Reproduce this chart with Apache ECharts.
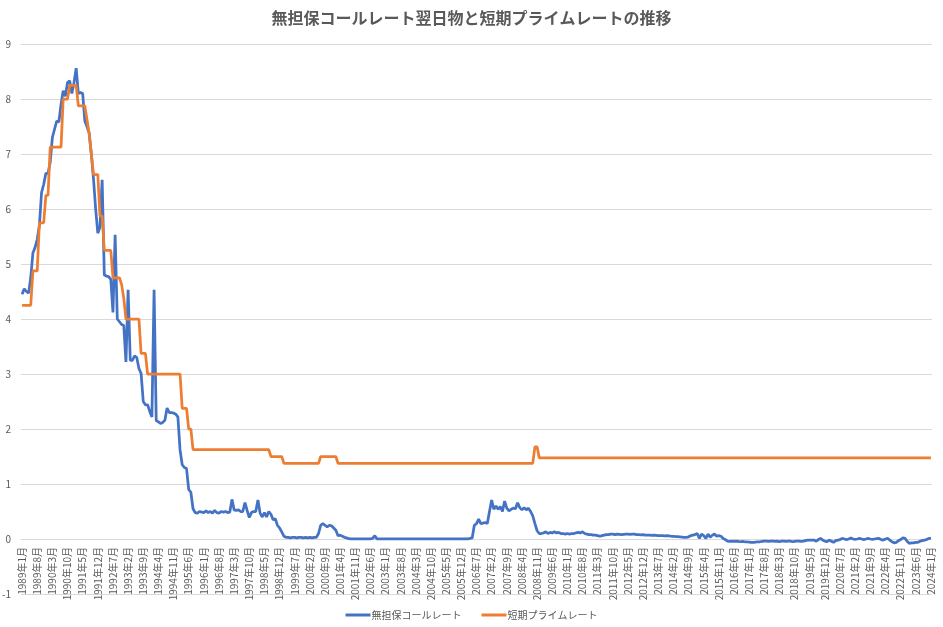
<!DOCTYPE html>
<html>
<head>
<meta charset="utf-8">
<script src="https://cdn.jsdelivr.net/npm/echarts@6/dist/echarts.min.js"></script>
<style>
  html, body {margin: 0; padding: 0; background: #fff;}
  #chart {width: 943px; height: 627px;}
</style>
</head>
<body>
<div id="chart"></div>
<script>
// 月次データ 1989年1月〜2024年1月
var startYear = 1989;
var monthCount = 421;

// 無担保コールレート翌日物 (年ごと12ヶ月)
var callRate = [
    4.45, 4.55, 4.5, 4.47, 4.75, 5.2, 5.3, 5.45, 5.7, 6.3, 6.45, 6.65,          // 1989
    6.65, 6.85, 7.3, 7.45, 7.6, 7.58, 7.9, 8.15, 8.05, 8.3, 8.33, 8.1,          // 1990
    8.3, 8.56, 8.1, 8.12, 8.1, 7.6, 7.5, 7.38, 7.0, 6.55, 6.0, 5.56,            // 1991
    5.67, 6.53, 4.8, 4.78, 4.77, 4.72, 4.12, 5.53, 4.0, 3.95, 3.9, 3.88,        // 1992
    3.22, 4.53, 3.25, 3.25, 3.33, 3.3, 3.1, 3.01, 2.5, 2.44, 2.44, 2.32,        // 1993
    2.22, 4.53, 2.15, 2.13, 2.1, 2.12, 2.16, 2.38, 2.3, 2.3, 2.29, 2.27,        // 1994
    2.22, 1.62, 1.35, 1.3, 1.28, 0.9, 0.85, 0.55, 0.48, 0.47, 0.5, 0.49,        // 1995
    0.48, 0.51, 0.48, 0.5, 0.47, 0.52, 0.48, 0.47, 0.5, 0.49, 0.5, 0.48,        // 1996
    0.49, 0.72, 0.53, 0.52, 0.53, 0.5, 0.5, 0.66, 0.52, 0.39, 0.48, 0.5,        // 1997
    0.5, 0.71, 0.47, 0.4, 0.48, 0.4, 0.5, 0.45, 0.35, 0.37, 0.25, 0.2,          // 1998
    0.13, 0.05, 0.03, 0.03, 0.02, 0.03, 0.03, 0.02, 0.03, 0.03, 0.02, 0.03,     // 1999
    0.02, 0.03, 0.02, 0.03, 0.03, 0.1, 0.25, 0.28, 0.25, 0.22, 0.25, 0.24,      // 2000
    0.2, 0.16, 0.06, 0.07, 0.05, 0.03, 0.02, 0.005, 0.002, 0.002, 0.002, 0.002, // 2001
    0.002, 0.002, 0.002, 0.002, 0.002, 0.002, 0.01, 0.06, 0.002, 0.002, 0.002, 0.002, // 2002
    0.001, 0.001, 0.001, 0.001, 0.001, 0.001, 0.001, 0.001, 0.001, 0.001, 0.001, 0.001, // 2003
    0.001, 0.001, 0.001, 0.001, 0.001, 0.001, 0.001, 0.001, 0.001, 0.001, 0.001, 0.001, // 2004
    0.001, 0.001, 0.001, 0.001, 0.001, 0.001, 0.001, 0.001, 0.001, 0.001, 0.001, 0.001, // 2005
    0.001, 0.001, 0.001, 0.01, 0.02, 0.25, 0.28, 0.36, 0.28, 0.29, 0.3, 0.28,   // 2006
    0.5, 0.71, 0.54, 0.6, 0.54, 0.59, 0.5, 0.69, 0.56, 0.51, 0.54, 0.56,        // 2007
    0.55, 0.66, 0.57, 0.53, 0.57, 0.53, 0.56, 0.5, 0.42, 0.28, 0.15, 0.1,       // 2008
    0.1, 0.11, 0.13, 0.1, 0.12, 0.11, 0.13, 0.11, 0.12, 0.1, 0.1, 0.09,         // 2009
    0.1, 0.09, 0.1, 0.1, 0.11, 0.12, 0.11, 0.13, 0.1, 0.09, 0.08, 0.08,         // 2010
    0.07, 0.07, 0.06, 0.05, 0.06, 0.07, 0.08, 0.08, 0.09, 0.09, 0.08, 0.09,     // 2011
    0.085, 0.08, 0.085, 0.09, 0.09, 0.085, 0.09, 0.09, 0.08, 0.08, 0.075, 0.08, // 2012
    0.07, 0.07, 0.07, 0.065, 0.07, 0.065, 0.06, 0.06, 0.06, 0.055, 0.06, 0.055, // 2013
    0.05, 0.05, 0.045, 0.045, 0.04, 0.035, 0.03, 0.03, 0.04, 0.06, 0.07, 0.08,  // 2014
    0.1, 0.01, 0.09, 0.06, 0.01, 0.09, 0.03, 0.07, 0.09, 0.05, 0.06, 0.05,      // 2015
    0.01, -0.01, -0.04, -0.045, -0.04, -0.045, -0.04, -0.045, -0.05, -0.045, -0.05, -0.05, // 2016
    -0.055, -0.06, -0.06, -0.055, -0.05, -0.05, -0.045, -0.04, -0.04, -0.045, -0.04, -0.04, // 2017
    -0.045, -0.04, -0.05, -0.04, -0.04, -0.045, -0.04, -0.04, -0.05, -0.045, -0.04, -0.04, // 2018
    -0.045, -0.04, -0.03, -0.02, -0.02, -0.02, -0.02, -0.04, -0.01, 0.01, -0.02, -0.04,   // 2019
    -0.05, -0.02, -0.04, -0.06, -0.03, -0.02, -0.01, 0.01, 0.0, -0.01, 0.0, 0.02,         // 2020
    0.0, -0.005, 0.0, 0.01, 0.0, -0.01, 0.0, 0.01, 0.0, -0.005, 0.0, 0.005,               // 2021
    0.01, -0.01, -0.02, 0.0, 0.01, -0.02, -0.05, -0.07, -0.06, -0.03, -0.01, 0.02,        // 2022
    0.01, -0.04, -0.08, -0.07, -0.07, -0.06, -0.06, -0.04, -0.03, -0.02, -0.01, 0.01,     // 2023
    0.01                                                                                 // 2024
];

// 短期プライムレート
var primeRate = [
    4.25, 4.25, 4.25, 4.25, 4.25, 4.875, 4.875, 4.875, 5.75, 5.75, 5.75, 6.25,           // 1989
    6.25, 7.125, 7.125, 7.125, 7.125, 7.125, 7.125, 8.0, 8.0, 8.0, 8.25, 8.25,           // 1990
    8.25, 8.25, 7.875, 7.875, 7.875, 7.875, 7.625, 7.375, 7.0, 6.625, 6.625, 6.625,      // 1991
    5.875, 5.875, 5.25, 5.25, 5.25, 5.25, 4.75, 4.75, 4.75, 4.75, 4.625, 4.375,          // 1992
    4.0, 4.0, 4.0, 4.0, 4.0, 4.0, 4.0, 3.375, 3.375, 3.375, 3.0, 3.0,                    // 1993
    3.0, 3.0, 3.0, 3.0, 3.0, 3.0, 3.0, 3.0, 3.0, 3.0, 3.0, 3.0,                          // 1994
    3.0, 3.0, 2.375, 2.375, 2.375, 2.0, 2.0, 1.625, 1.625, 1.625, 1.625, 1.625,          // 1995
    1.625, 1.625, 1.625, 1.625, 1.625, 1.625, 1.625, 1.625, 1.625, 1.625, 1.625, 1.625,  // 1996
    1.625, 1.625, 1.625, 1.625, 1.625, 1.625, 1.625, 1.625, 1.625, 1.625, 1.625, 1.625,  // 1997
    1.625, 1.625, 1.625, 1.625, 1.625, 1.625, 1.625, 1.5, 1.5, 1.5, 1.5, 1.5,            // 1998
    1.5, 1.375, 1.375, 1.375, 1.375, 1.375, 1.375, 1.375, 1.375, 1.375, 1.375, 1.375,    // 1999
    1.375, 1.375, 1.375, 1.375, 1.375, 1.375, 1.5, 1.5, 1.5, 1.5, 1.5, 1.5,              // 2000
    1.5, 1.5, 1.375, 1.375, 1.375, 1.375, 1.375, 1.375, 1.375, 1.375, 1.375, 1.375,      // 2001
    1.375, 1.375, 1.375, 1.375, 1.375, 1.375, 1.375, 1.375, 1.375, 1.375, 1.375, 1.375,  // 2002
    1.375, 1.375, 1.375, 1.375, 1.375, 1.375, 1.375, 1.375, 1.375, 1.375, 1.375, 1.375,  // 2003
    1.375, 1.375, 1.375, 1.375, 1.375, 1.375, 1.375, 1.375, 1.375, 1.375, 1.375, 1.375,  // 2004
    1.375, 1.375, 1.375, 1.375, 1.375, 1.375, 1.375, 1.375, 1.375, 1.375, 1.375, 1.375,  // 2005
    1.375, 1.375, 1.375, 1.375, 1.375, 1.375, 1.375, 1.375, 1.375, 1.375, 1.375, 1.375,  // 2006
    1.375, 1.375, 1.375, 1.375, 1.375, 1.375, 1.375, 1.375, 1.375, 1.375, 1.375, 1.375,  // 2007
    1.375, 1.375, 1.375, 1.375, 1.375, 1.375, 1.375, 1.375, 1.375, 1.675, 1.675, 1.475,  // 2008
    1.475, 1.475, 1.475, 1.475, 1.475, 1.475, 1.475, 1.475, 1.475, 1.475, 1.475, 1.475,  // 2009
    1.475, 1.475, 1.475, 1.475, 1.475, 1.475, 1.475, 1.475, 1.475, 1.475, 1.475, 1.475,  // 2010
    1.475, 1.475, 1.475, 1.475, 1.475, 1.475, 1.475, 1.475, 1.475, 1.475, 1.475, 1.475,  // 2011
    1.475, 1.475, 1.475, 1.475, 1.475, 1.475, 1.475, 1.475, 1.475, 1.475, 1.475, 1.475,  // 2012
    1.475, 1.475, 1.475, 1.475, 1.475, 1.475, 1.475, 1.475, 1.475, 1.475, 1.475, 1.475,  // 2013
    1.475, 1.475, 1.475, 1.475, 1.475, 1.475, 1.475, 1.475, 1.475, 1.475, 1.475, 1.475,  // 2014
    1.475, 1.475, 1.475, 1.475, 1.475, 1.475, 1.475, 1.475, 1.475, 1.475, 1.475, 1.475,  // 2015
    1.475, 1.475, 1.475, 1.475, 1.475, 1.475, 1.475, 1.475, 1.475, 1.475, 1.475, 1.475,  // 2016
    1.475, 1.475, 1.475, 1.475, 1.475, 1.475, 1.475, 1.475, 1.475, 1.475, 1.475, 1.475,  // 2017
    1.475, 1.475, 1.475, 1.475, 1.475, 1.475, 1.475, 1.475, 1.475, 1.475, 1.475, 1.475,  // 2018
    1.475, 1.475, 1.475, 1.475, 1.475, 1.475, 1.475, 1.475, 1.475, 1.475, 1.475, 1.475,  // 2019
    1.475, 1.475, 1.475, 1.475, 1.475, 1.475, 1.475, 1.475, 1.475, 1.475, 1.475, 1.475,  // 2020
    1.475, 1.475, 1.475, 1.475, 1.475, 1.475, 1.475, 1.475, 1.475, 1.475, 1.475, 1.475,  // 2021
    1.475, 1.475, 1.475, 1.475, 1.475, 1.475, 1.475, 1.475, 1.475, 1.475, 1.475, 1.475,  // 2022
    1.475, 1.475, 1.475, 1.475, 1.475, 1.475, 1.475, 1.475, 1.475, 1.475, 1.475, 1.475,  // 2023
    1.475                                                                                // 2024
];

var seriesNames = ['無担保コールレート', '短期プライムレート'];
var seriesColors = ['#4472C4', '#ED7D31'];

// カテゴリ (1989年1月 ...)
var months = [];
for (var i = 0; i < monthCount; i++) {
    var y = startYear + Math.floor(i / 12);
    var m = i % 12 + 1;
    months.push(y + '年' + m + '月');
}

var font = '"Noto Sans CJK JP", "Noto Sans", sans-serif';
var chart = echarts.init(document.getElementById('chart'));
var option = {
    backgroundColor: '#fff',
    animation: false,
    textStyle: {fontFamily: font},
    title: {
        text: '無担保コールレート翌日物と短期プライムレートの推移',
        left: 'center',
        top: 5,
        textStyle: {fontSize: 16, fontWeight: 'bold', color: '#595959', fontFamily: font}
    },
    legend: {
        bottom: 2,
        left: 'center',
        itemWidth: 25,
        itemHeight: 3,
        itemGap: 20,
        icon: 'rect',
        textStyle: {fontSize: 10, color: '#595959', fontFamily: font, padding: [0, 0, 0, -4]},
        data: seriesNames
    },
    grid: {left: 21, right: 11, top: 44, bottom: 33, containLabel: false, outerBoundsMode: 'none'},
    xAxis: {
        type: 'category',
        data: months,
        boundaryGap: true,
        position: 'bottom',
        axisLine: {show: false, onZero: false},
        axisTick: {show: false},
        axisLabel: {
            interval: 6,
            rotate: 90,
            fontSize: 10,
            color: '#595959',
            margin: -47,
            fontFamily: font
        }
    },
    yAxis: {
        type: 'value',
        min: -1,
        max: 9,
        interval: 1,
        axisLine: {show: false},
        axisTick: {show: false},
        axisLabel: {fontSize: 10, color: '#595959', margin: 10},
        splitLine: {lineStyle: {color: '#d9d9d9', width: 1}}
    },
    series: [
        {
            name: seriesNames[0],
            type: 'line',
            data: callRate,
            symbol: 'none',
            color: seriesColors[0],
            lineStyle: {width: 2.75, color: seriesColors[0]}
        },
        {
            name: seriesNames[1],
            type: 'line',
            data: primeRate,
            symbol: 'none',
            color: seriesColors[1],
            lineStyle: {width: 2.75, color: seriesColors[1]}
        }
    ]
};
chart.setOption(option);
</script>
</body>
</html>
